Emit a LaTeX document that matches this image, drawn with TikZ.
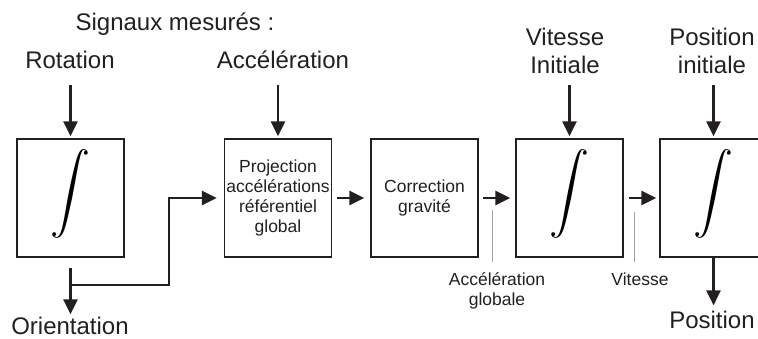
\documentclass[tikz,border=0pt]{standalone}
\usepackage{fontspec}
\setmainfont{Liberation Sans}
\usetikzlibrary{arrows.meta}
\definecolor{ink}{HTML}{231F20}
\definecolor{tickgray}{HTML}{A0A0A0}
\begin{document}
\begin{tikzpicture}[x=1pt,y=-1pt,
  box/.style={draw=ink, line width=1.2pt, minimum width=107pt, minimum height=118pt, inner sep=0pt, align=center, text=ink, font=\fontsize{17.5}{20}\selectfont},
  big/.style={inner sep=0pt, align=center, text=ink, font=\fontsize{24}{28}\selectfont},
  small/.style={inner sep=0pt, align=center, text=ink, font=\fontsize{17.5}{20}\selectfont},
  arr/.style={draw=ink, line width=2.7pt, line join=miter, -{Triangle[length=15pt,width=14pt]}},
  tickline/.style={draw=tickgray, line width=1pt},
  intg/.style={inner sep=0pt, text=black}]
\clip (0,0) rectangle (758,338);
% boxes
\node[box] (b1) at (70.5,198) {};
\node[box] (b2) at (278,198) {Projection\\accélérations\\référentiel\\global};
\node[box] (b3) at (424.5,198) {Correction\\gravité};
\node[box] (b4) at (569.5,198) {};
\node[box] (b5) at (713.5,198) {};
% integrals
\node[intg] (i1) at ([yshift=4pt]b1.center) {\scalebox{4}{$\displaystyle\int$}};
\node[intg] (i4) at ([yshift=4pt]b4.center) {\scalebox{4}{$\displaystyle\int$}};
\node[intg] (i5) at ([yshift=4pt]b5.center) {\scalebox{4}{$\displaystyle\int$}};
% labels
\node[big, anchor=base] (sig) at (175,30) {Signaux mesurés :};
\node[big, anchor=base] (rot) at (70,68) {Rotation};
\node[big, anchor=base] (acc) at (283,68) {Accélération};
\node[big, anchor=base] (vit) at (565,73) {Vitesse\\Initiale};
\node[big, anchor=base] (posi) at (712,73) {Position\\initiale};
\node[big, anchor=base] (ori) at (70,334) {Orientation};
\node[big, anchor=base] (pos) at (712,328) {Position};
\node[small, anchor=base] (ag) at (497,305) {Accélération\\globale};
\node[small, anchor=base] (vl) at (640,285) {Vitesse};
% input arrows
\draw[arr, shorten <=17pt, shorten >=2pt] (b1.north |- rot.south) -- (b1.north);
\draw[arr, shorten <=17pt, shorten >=2pt] (b2.north |- acc.south) -- (b2.north);
\draw[arr, shorten <=12pt, shorten >=2pt] (b4.north |- vit.south) -- (b4.north);
\draw[arr, shorten <=12pt, shorten >=2pt] (b5.north |- posi.south) -- (b5.north);
% orientation
\draw[arr, shorten <=10pt, shorten >=2pt] (b1.south) -- (b1.south |- ori.north);
\coordinate (br1) at (70.5,285);
\coordinate (br2) at (169,285);
\draw[arr, shorten >=7pt] (br1) -- (br2) |- (b2.west);
% chain
\draw[arr, shorten <=5pt, shorten >=6pt] (b2.east) -- (b3.west);
\draw[arr, shorten <=4pt, shorten >=5pt] (b3.east) -- (b4.west);
\draw[arr, shorten <=5pt, shorten >=3pt] (b4.east) -- (b5.west);
\draw[arr, shorten >=5pt] (b5.south) -- (b5.south |- pos.north);
% ticks
\coordinate (t1a) at (492,210);
\coordinate (t1b) at (492,262);
\coordinate (t2a) at (634,212);
\coordinate (t2b) at (634,262);
\draw[tickline] (t1a) -- (t1b);
\draw[tickline] (t2a) -- (t2b);
\end{tikzpicture}
\end{document}
